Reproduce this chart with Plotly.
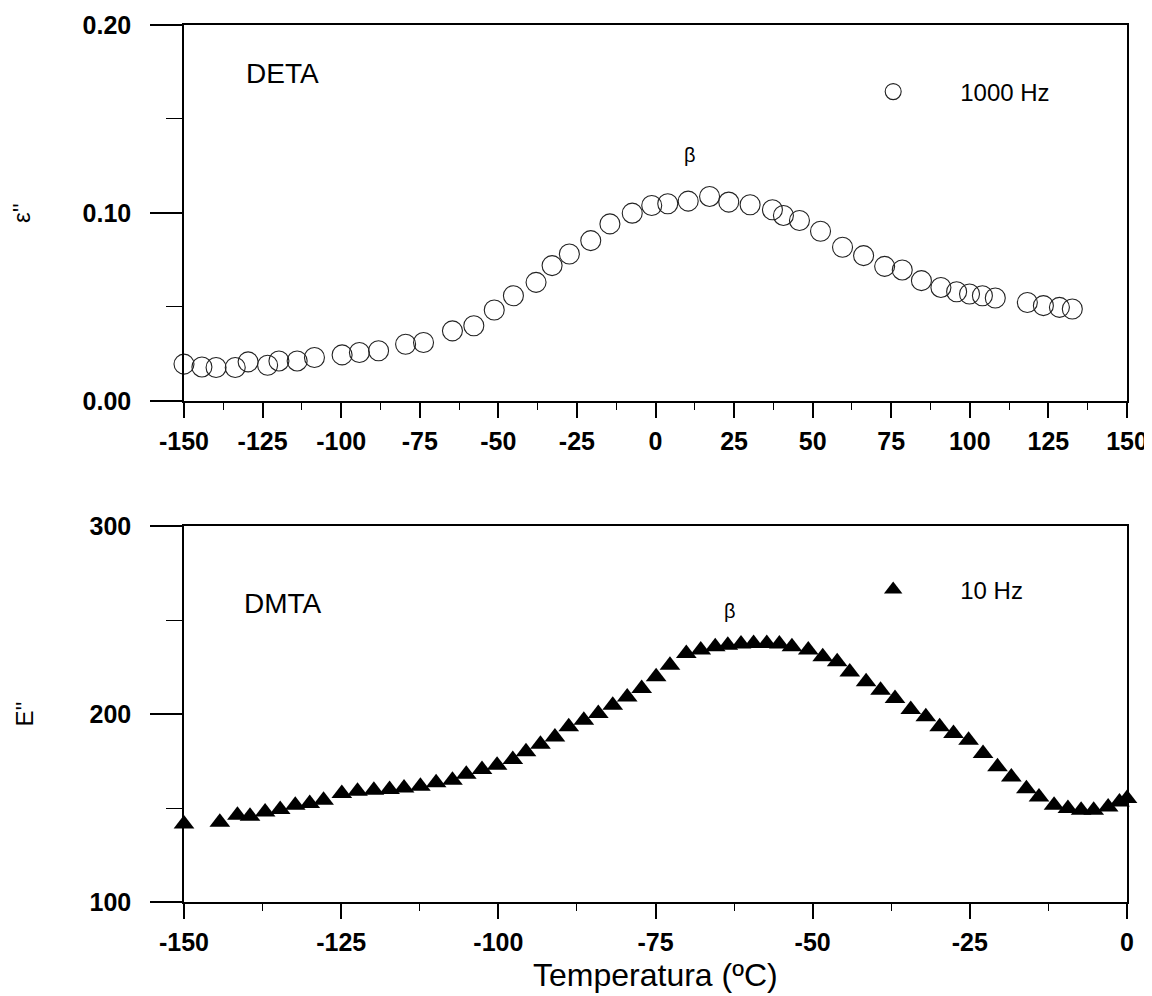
import plotly.graph_objects as go

# ---------------- data ----------------
deta_T = [-150, -144.3, -139.8, -133.7, -129.6, -123.4, -119.8, -114.0, -108.5, -99.7,
          -94.2, -88.1, -79.5, -73.8, -64.6, -57.8, -51.3, -45.2, -38.0, -32.9,
          -27.4, -20.6, -14.5, -7.4, -1.2, 3.9, 10.4, 17.2, 23.3, 30.1,
          37.2, 40.7, 45.8, 52.5, 59.5, 66.2, 72.9, 78.5, 84.6, 90.8,
          95.8, 99.9, 104.0, 108.1, 118.3, 123.4, 128.5, 132.6]
deta_eps2 = [0.0196, 0.0181, 0.0178, 0.0178, 0.0208, 0.0190, 0.0213, 0.0213, 0.0231, 0.0245,
             0.0258, 0.0267, 0.0302, 0.0311, 0.0373, 0.0400, 0.0484, 0.0560, 0.0631, 0.0720,
             0.0782, 0.0853, 0.0942, 0.0999, 0.1040, 0.1049, 0.1063, 0.1088, 0.1058, 0.1044,
             0.1017, 0.0987, 0.0960, 0.0903, 0.0818, 0.0773, 0.0716, 0.0697, 0.0640, 0.0604,
             0.0581, 0.0569, 0.0560, 0.0548, 0.0524, 0.0507, 0.0498, 0.0489]

dmta_T = [-150, -144.3, -141.5, -139.5, -137.1, -134.7, -132.3, -130.0, -127.8, -124.9,
          -122.4, -119.8, -117.3, -115.0, -112.4, -109.9, -107.3, -105.1, -102.6, -100.2,
          -97.7, -95.6, -93.3, -91.0, -88.8, -86.4, -84.1, -81.8, -79.5, -77.2,
          -74.9, -72.7, -70.1, -67.8, -65.5, -63.5, -61.4, -59.4, -57.3, -55.3,
          -53.3, -50.7, -48.4, -46.1, -44.1, -41.5, -39.2, -36.9, -34.4, -32.0,
          -29.8, -27.6, -25.2, -22.9, -20.6, -18.4, -16.0, -14.0, -11.6, -9.4,
          -7.3, -5.3, -3.0, -1.2, 0.0]
dmta_E2 = [141.5, 142.4, 146.1, 145.6, 147.9, 149.2, 151.5, 152.4, 154.1, 157.7,
           158.9, 159.5, 159.8, 160.7, 161.6, 163.4, 164.8, 168.0, 170.5, 172.8,
           175.8, 179.9, 183.9, 187.8, 193.2, 196.7, 200.3, 204.7, 209.1, 213.6,
           219.8, 226.0, 232.2, 234.0, 235.8, 236.6, 237.2, 237.5, 237.5, 237.2,
           235.8, 234.0, 230.4, 227.8, 222.4, 217.1, 212.7, 208.3, 202.4, 198.5,
           193.2, 189.6, 186.1, 179.0, 171.9, 166.5, 160.3, 155.9, 151.5, 149.7,
           148.8, 148.8, 150.6, 153.2, 155.0]

top_xticks = list(range(-150, 151, 25))
top_xlabels = [str(v) for v in top_xticks]
top_yticks = [0.0, 0.10, 0.20]
top_ylabels = ["0.00", "0.10", "0.20"]
bot_xticks = list(range(-150, 1, 25))
bot_xlabels = [str(v) for v in bot_xticks]
bot_yticks = [100, 200, 300]
bot_ylabels = ["100", "200", "300"]

FONT = "Liberation Sans, Arial, sans-serif"

fig = go.Figure()
fig.add_trace(go.Scatter(
    x=deta_T, y=deta_eps2, mode="markers", name="1000 Hz",
    marker=dict(symbol="circle-open", size=20, color="#222", line=dict(width=1.1, color="#222")),
    xaxis="x", yaxis="y", legend="legend", cliponaxis=False))
fig.add_trace(go.Scatter(
    x=dmta_T, y=dmta_E2, mode="markers", name="10 Hz",
    marker=dict(symbol="triangle-up", size=18, color="black"),
    xaxis="x2", yaxis="y2", legend="legend2", cliponaxis=False))

tickfont = dict(family=FONT, size=25, color="black", weight="bold")
common_x = dict(showline=True, linewidth=1.5, linecolor="black", mirror=True,
                ticks="outside", ticklen=15, tickwidth=1.5, tickcolor="black",
                showgrid=False, zeroline=False, tickfont=tickfont, automargin=False,
                minor=dict(dtick=12.5, ticklen=7, tickwidth=1.2, tickcolor="black", ticks="outside"),
                ticklabelstandoff=2)
common_y = dict(showline=True, linewidth=1.5, linecolor="black", mirror=True,
                ticks="outside", ticklen=32, tickwidth=1.5, tickcolor="black",
                showgrid=False, zeroline=False, tickfont=tickfont, automargin=False,
                ticklabelstandoff=14)

fig.update_layout(
    width=1144, height=988,
    margin=dict(l=176, r=25, t=17, b=94),
    paper_bgcolor="white", plot_bgcolor="white",
    font=dict(family=FONT, color="black"),
    xaxis=dict(domain=[0, 1], range=[-150, 150], tickvals=top_xticks, ticktext=top_xlabels,
               anchor="y", **common_x),
    yaxis=dict(domain=[0.5713, 1], range=[0, 0.2], tickvals=top_yticks, ticktext=top_ylabels,
               anchor="x", minor=dict(dtick=0.05, ticklen=16, tickwidth=1.2, tickcolor="black", ticks="outside"),
               title=dict(text="ε''", font=dict(family=FONT, size=24), standoff=47), **common_y),
    xaxis2=dict(domain=[0, 1], range=[-150, 0], tickvals=bot_xticks, ticktext=bot_xlabels, anchor="y2",
                **common_x),
    yaxis2=dict(domain=[0, 0.4287], range=[100, 300], tickvals=bot_yticks, ticktext=bot_ylabels, anchor="x2",
                minor=dict(dtick=50, ticklen=16, tickwidth=1.2, tickcolor="black", ticks="outside"),
                title=dict(text="E''", font=dict(family=FONT, size=24), standoff=49), **common_y),
    legend=dict(x=0.681, y=0.9236, xanchor="left", yanchor="middle", bgcolor="rgba(0,0,0,0)",
                font=dict(family=FONT, size=24), itemwidth=124),
    legend2=dict(x=0.681, y=0.3558, xanchor="left", yanchor="middle", bgcolor="rgba(0,0,0,0)",
                 font=dict(family=FONT, size=24), itemwidth=124),
    showlegend=True,
)

annots = [
    dict(text="DETA", x=-118.8, y=0.174, xref="x", yref="y", font=dict(size=28)),
    dict(text="β", x=11, y=0.131, xref="x", yref="y", font=dict(size=20)),
    dict(text="DMTA", x=-134.3, y=259, xref="x2", yref="y2", font=dict(size=28)),
    dict(text="β", x=-63.2, y=255, xref="x2", yref="y2", font=dict(size=20)),
    # x-axis title of the lower panel
    dict(text="Temperatura (ºC)", x=0.5, y=-0.0835, xref="paper", yref="paper", font=dict(size=32)),
]
for a in annots:
    a.update(showarrow=False, xanchor="center", yanchor="middle")
    a["font"].update(family=FONT, color="black")
    fig.add_annotation(**a)

fig.write_html("out.html")
